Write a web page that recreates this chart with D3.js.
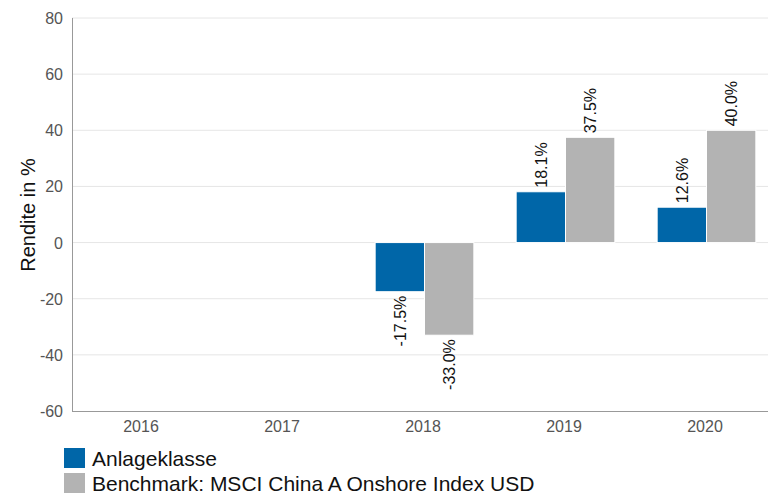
<!DOCTYPE html>
<html>
<head>
<meta charset="utf-8">
<script src="https://cdn.jsdelivr.net/npm/d3@7"></script>
<style>
  body { margin: 0; background: #fff; }
  svg { display: block; font-family: "Liberation Sans", Arial, sans-serif; }
</style>
</head>
<body>
<div id="chart"></div>
<script>
const years = ['2016', '2017', '2018', '2019', '2020'];
const seriesNames = ['Anlageklasse', 'Benchmark: MSCI China A Onshore Index USD'];
const anlageklasse = [null, null, -17.5, 18.1, 12.6];
const benchmark = [null, null, -33.0, 37.5, 40.0];
const yTicks = [-60, -40, -20, 0, 20, 40, 60, 80];
const colors = ['#0066a8', '#b3b3b3'];

const width = 768, height = 496;
const plotL = 72, plotR = 777, plotT = 18, plotB = 411;

const svg = d3.select('#chart').append('svg')
    .attr('width', width)
    .attr('height', height);

const y = d3.scaleLinear().domain([-60, 80]).range([plotB, plotT]);
const x0 = d3.scaleBand().domain(years).range([plotL, plotR])
    .paddingInner(0.3).paddingOuter(0.15);
const x1 = d3.scaleBand().domain([0, 1]).range([0, x0.bandwidth()]);

// gridlines
svg.append('g')
   .selectAll('line')
   .data(yTicks.filter(t => t !== -60))
   .enter().append('line')
     .attr('x1', plotL).attr('x2', width)
     .attr('y1', d => y(d)).attr('y2', d => y(d))
     .attr('stroke', '#e6e6e6')
     .attr('stroke-width', 1);

// y tick labels
svg.append('g')
   .selectAll('text')
   .data(yTicks)
   .enter().append('text')
     .attr('x', plotL - 9)
     .attr('y', d => y(d) + 6)
     .attr('text-anchor', 'end')
     .attr('font-size', '16px')
     .attr('fill', '#555')
     .text(d => d);

// axis lines
svg.append('line')
   .attr('x1', plotL + 0.5).attr('x2', plotL + 0.5)
   .attr('y1', plotT).attr('y2', plotB)
   .attr('stroke', '#999');
svg.append('line')
   .attr('x1', plotL).attr('x2', width)
   .attr('y1', plotB + 0.5).attr('y2', plotB + 0.5)
   .attr('stroke', '#999');

// x labels
svg.append('g')
   .selectAll('text')
   .data(years)
   .enter().append('text')
     .attr('x', d => x0(d) + x0.bandwidth() / 2 - 1.5)
     .attr('y', plotB + 21)
     .attr('text-anchor', 'middle')
     .attr('font-size', '16px')
     .attr('fill', '#555')
     .text(d => d);

// y title
svg.append('text')
   .attr('transform', `translate(35,215) rotate(-90)`)
   .attr('text-anchor', 'middle')
   .attr('font-size', '20px')
   .attr('fill', '#111')
   .text('Rendite in %');

// bars
const rows = [];
years.forEach((yr, i) => {
  [anlageklasse[i], benchmark[i]].forEach((v, s) => {
    if (v !== null) rows.push({ yr, s, v });
  });
});

const fmt = v => v.toFixed(1) + '%';

svg.append('g')
   .selectAll('rect')
   .data(rows)
   .enter().append('rect')
     .attr('x', d => x0(d.yr) + x1(d.s))
     .attr('width', x1.bandwidth())
     .attr('y', d => y(Math.max(0, d.v)))
     .attr('height', d => Math.abs(y(d.v) - y(0)))
     .attr('fill', d => colors[d.s])
     .attr('stroke', '#fff')
     .attr('stroke-width', 1);

// value labels
svg.append('g')
   .selectAll('text')
   .data(rows)
   .enter().append('text')
     .attr('transform', d => {
       const cx = x0(d.yr) + x1(d.s) + x1.bandwidth() / 2 + 6;
       const cy = d.v >= 0 ? y(d.v) - 4 : y(d.v) + 4;
       return `translate(${cx},${cy}) rotate(-90)`;
     })
     .attr('text-anchor', d => d.v >= 0 ? 'start' : 'end')
     .attr('font-size', '16px')
     .attr('fill', '#111')
     .text(d => fmt(d.v));

// legend
const legend = svg.append('g')
   .selectAll('g')
   .data(seriesNames)
   .enter().append('g')
     .attr('transform', (d, i) => `translate(64,${448 + i * 25})`);
legend.append('rect')
   .attr('width', 21).attr('height', 20)
   .attr('fill', (d, i) => colors[i]);
legend.append('text')
   .attr('x', 28)
   .attr('y', 18)
   .attr('font-size', '21px')
   .attr('fill', '#111')
   .text(d => d);
</script>
</body>
</html>
